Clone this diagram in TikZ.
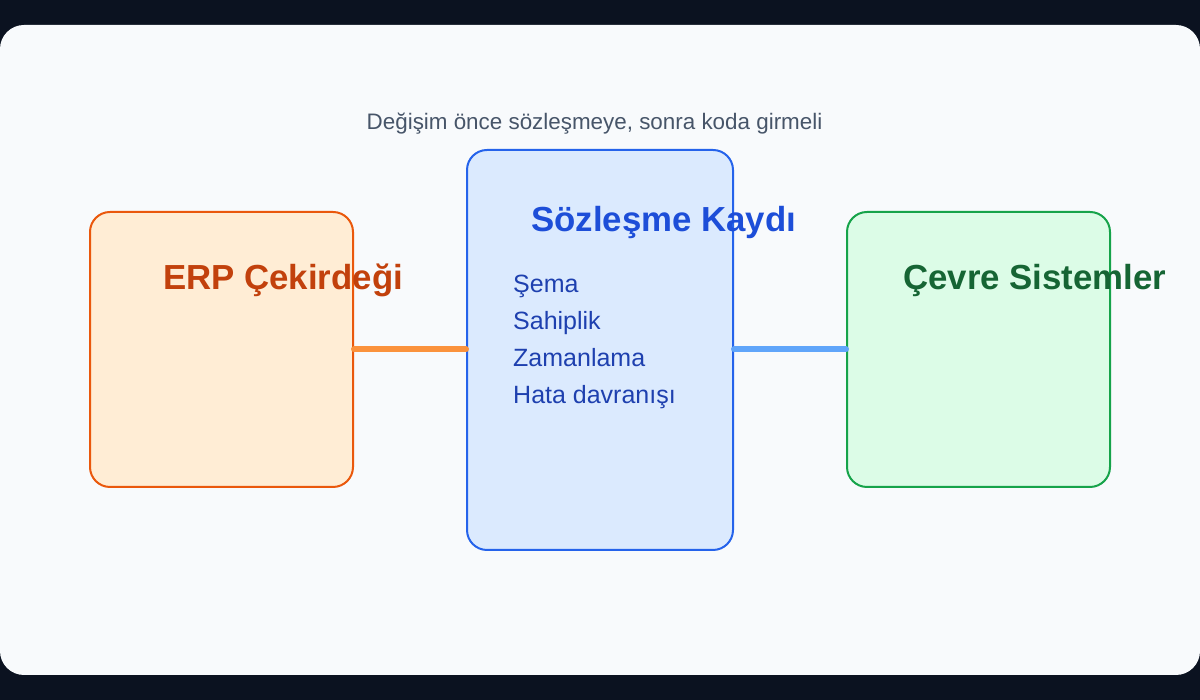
\documentclass[tikz,border=0pt]{standalone}
\usepackage{fontspec}
\setmainfont{Liberation Sans}
\usepackage{xcolor}
\definecolor{pagebg}{HTML}{0B1220}
\definecolor{panelbg}{HTML}{F8FAFC}
\definecolor{erpfill}{HTML}{FFEDD5}
\definecolor{erpline}{HTML}{EA580C}
\definecolor{erptext}{HTML}{C2410C}
\definecolor{erplink}{HTML}{FB923C}
\definecolor{regfill}{HTML}{DBEAFE}
\definecolor{regline}{HTML}{2563EB}
\definecolor{regtext}{HTML}{1D4ED8}
\definecolor{regitem}{HTML}{1E40AF}
\definecolor{reglink}{HTML}{60A5FA}
\definecolor{envfill}{HTML}{DCFCE7}
\definecolor{envline}{HTML}{16A34A}
\definecolor{envtext}{HTML}{166534}
\definecolor{subtext}{HTML}{475569}

\begin{document}
\begin{tikzpicture}[x=1pt,y=1pt,
  box/.style={draw,line width=2pt,rounded corners=20pt,inner sep=0pt},
  title/.style={anchor=base west,inner sep=0pt,font=\fontsize{34.8}{40}\selectfont\bfseries},
  item/.style={anchor=base west,inner sep=0pt,text=regitem,font=\fontsize{25}{30}\selectfont},
  link/.style={line width=6pt,line cap=round}]
\useasboundingbox (0,0) rectangle (1200,700);
\fill[pagebg] (0,0) rectangle (1200,700);
\fill[panelbg,rounded corners=24pt] (0,25) rectangle (1200,675);
\node[box,draw=erpline,fill=erpfill,minimum width=263pt,minimum height=275pt] (erp) at (221.5,350.5) {};
\node[box,draw=regline,fill=regfill,minimum width=266pt,minimum height=400pt] (reg) at (600,350) {};
\node[box,draw=envline,fill=envfill,minimum width=263pt,minimum height=275pt] (env) at (978.5,350.5) {};
\draw[link,erplink] (erp.east) -- (erp.east -| reg.west);
\draw[link,reglink] (env.west -| reg.east) -- (env.west);
\node[anchor=base west,inner sep=0pt,text=subtext,font=\fontsize{22.4}{27}\selectfont] (sub) at (366.5,570) {Değişim önce sözleşmeye, sonra koda girmeli};
\node[title,text=erptext] (erptitle) at (163,410) {ERP Çekirdeği};
\node[title,text=regtext] (regtitle) at (531,468) {Sözleşme Kaydı};
\node[title,text=envtext] (envtitle) at (903,410) {Çevre Sistemler};
\node[item] (schema) at (513,407) {Şema};
\node[item] (owner) at (513,370) {Sahiplik};
\node[item] (timing) at (513,333) {Zamanlama};
\node[item] (errors) at (513,296) {Hata davranışı};
\end{tikzpicture}
\end{document}
